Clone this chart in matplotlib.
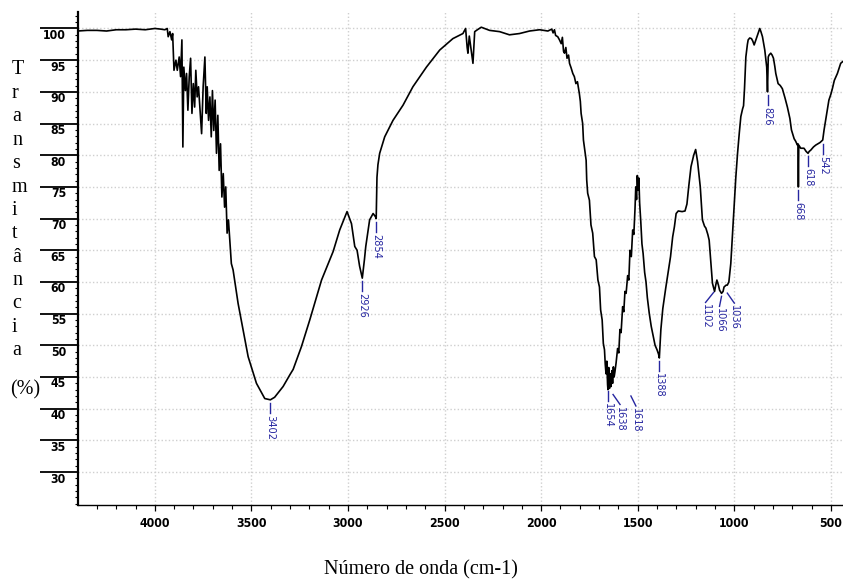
import numpy as np
import matplotlib
matplotlib.use("Agg")
import matplotlib.pyplot as plt
import matplotlib.font_manager as fm
from matplotlib.ticker import MultipleLocator

# ---------------- data ----------------
wavenumber = [
    4400, 4350, 4300, 4250, 4200, 4150, 4100, 4050, 4000, 3970, 3948,
    3936, 3931, 3922, 3913, 3908, 3901, 3891, 3884, 3874, 3867, 3860, 3855,
    3850, 3842, 3836, 3829, 3822, 3815, 3808, 3801, 3794, 3788, 3781, 3774,
    3767, 3758, 3750, 3741, 3734, 3729, 3722, 3715, 3708, 3702, 3695, 3688,
    3681, 3674, 3667, 3660, 3653, 3646, 3639, 3633, 3626, 3619, 3612, 3604,
    3595, 3569, 3543, 3517, 3474, 3431, 3402, 3380, 3336, 3300, 3284, 3241,
    3198, 3137, 3077, 3043, 3005, 2982, 2965, 2953, 2940, 2926, 2915, 2908,
    2888, 2870, 2858, 2854, 2850, 2845, 2836, 2810, 2767, 2715, 2664, 2594,
    2525, 2457, 2405, 2391, 2383, 2379, 2372, 2365, 2358, 2353, 2346, 2344,
    2330, 2310, 2267, 2215, 2164, 2112, 2060, 2008, 1965, 1945, 1938, 1931,
    1925, 1914, 1905, 1896, 1890, 1884, 1879, 1872, 1866, 1858, 1853, 1845,
    1836, 1828, 1820, 1812, 1802, 1797, 1793, 1785, 1781, 1776, 1767, 1764,
    1759, 1750, 1742, 1733, 1724, 1715, 1706, 1698, 1692, 1684, 1678, 1672,
    1668, 1664, 1660, 1656, 1654, 1650, 1646, 1642, 1638, 1634, 1630, 1626,
    1622, 1618, 1612, 1604, 1598, 1592, 1586, 1578, 1572, 1566, 1560, 1552,
    1546, 1540, 1533, 1526, 1520, 1514, 1510, 1506, 1502, 1498, 1494, 1490,
    1484, 1478, 1472, 1464, 1457, 1450, 1440, 1430, 1420, 1410, 1400, 1392,
    1388, 1380, 1370, 1355, 1345, 1330, 1319, 1310, 1301, 1290, 1270, 1255,
    1245, 1236, 1224, 1210, 1200, 1190, 1176, 1165, 1154, 1147, 1137, 1130,
    1120, 1113, 1102, 1096, 1090, 1082, 1076, 1066, 1058, 1053, 1042, 1036,
    1028, 1018, 1010, 1001, 992, 983, 974, 966, 957, 952, 947, 940, 932,
    928, 920, 911, 904, 897, 888, 880, 868, 862, 854, 842, 832, 828, 824,
    820, 811, 804, 797, 790, 785, 773, 762, 751, 737, 725, 712, 704, 690,
    682, 673, 670, 668, 666, 656, 639, 628, 618, 612, 604, 590, 578, 556,
    545, 542, 535, 527, 518, 510, 500, 492, 482, 466, 449, 441, 430,
]
transmittance = [
    99.6, 99.7, 99.7, 99.6, 99.8, 99.8, 99.9, 99.8, 100.0, 99.9, 99.8,
    100.0, 98.7, 99.5, 98.2, 99.2, 93.4, 95.0, 93.4, 95.5, 92.4, 98.2, 81.3,
    93.9, 90.2, 92.9, 87.1, 92.4, 95.3, 86.6, 91.3, 87.6, 93.4, 89.2, 90.8,
    87.6, 83.4, 90.8, 95.5, 86.6, 90.8, 85.5, 89.2, 82.9, 90.2, 83.9, 88.7,
    80.3, 86.3, 77.6, 81.8, 73.4, 77.1, 71.8, 75.0, 67.7, 69.8, 66.6, 62.9,
    61.9, 56.6, 52.4, 48.2, 44.0, 41.6, 41.4, 41.8, 43.5, 45.4, 46.2, 49.8,
    54.0, 60.3, 64.8, 68.2, 71.1, 69.2, 65.6, 65.0, 62.5, 60.6, 63.5, 65.6,
    69.8, 70.8, 70.3, 70.0, 76.5, 78.5, 80.3, 82.9, 85.5, 87.9, 90.8, 93.9,
    96.6, 98.4, 99.2, 100.0, 97.0, 96.1, 98.8, 97.2, 95.5, 94.5, 98.5, 99.5,
    99.8, 100.2, 99.7, 99.5, 99.0, 99.2, 99.6, 99.8, 99.6, 99.9, 99.3, 99.8,
    98.9, 98.7, 98.2, 97.6, 98.6, 96.4, 96.1, 97.0, 95.3, 95.8, 94.5, 93.8,
    92.9, 92.4, 91.3, 91.6, 89.7, 88.5, 86.6, 85.0, 82.4, 81.3, 79.2, 76.1,
    74.0, 72.9, 69.0, 67.7, 64.0, 63.5, 60.3, 59.2, 55.6, 54.0, 50.3, 49.3,
    47.0, 45.5, 47.5, 43.8, 43.0, 46.5, 43.2, 45.5, 43.5, 46.0, 44.0, 46.6,
    45.0, 45.8, 47.2, 49.5, 48.8, 52.5, 52.0, 56.1, 55.3, 58.5, 58.2, 61.0,
    60.3, 65.0, 64.0, 68.2, 67.5, 71.5, 75.0, 73.0, 76.8, 74.5, 76.4, 72.5,
    69.5, 66.0, 64.5, 61.5, 60.0, 57.5, 55.0, 53.0, 51.5, 50.0, 49.3, 48.6,
    48.0, 52.5, 55.8, 59.0, 61.0, 64.0, 67.1, 68.7, 70.8, 71.2, 71.1, 71.2,
    72.3, 75.0, 78.2, 80.0, 80.9, 79.0, 75.0, 69.8, 68.8, 68.5, 67.5, 66.6,
    62.5, 59.8, 58.5, 59.5, 60.3, 59.5, 58.7, 58.2, 58.5, 59.2, 59.5, 59.5,
    60.0, 62.9, 67.0, 71.9, 76.5, 80.3, 83.5, 86.1, 87.3, 87.8, 90.5, 95.5,
    97.5, 98.2, 98.5, 98.4, 98.0, 97.4, 98.2, 98.9, 100.0, 99.5, 98.7, 96.6,
    93.9, 90.0, 95.5, 95.8, 96.1, 95.8, 95.3, 94.0, 92.9, 91.3, 91.0, 90.5,
    89.0, 87.6, 85.8, 84.0, 82.6, 82.2, 81.6, 81.8, 75.0, 81.6, 81.1, 81.1,
    80.6, 80.3, 80.6, 80.8, 81.3, 81.6, 82.0, 82.3, 82.4, 84.0, 85.5, 87.2,
    88.7, 89.6, 90.5, 91.8, 92.9, 94.5, 94.7, 95.0,
]

peak_wn = [3402, 2926, 2854, 1654, 1638, 1618, 1388, 1102, 1066, 1036, 826, 668, 618, 542]
peak_labels = ["3402", "2926", "2854", "1654", "1638", "1618", "1388",
               "1102", "1066", "1036", "826", "668", "618", "542"]

x_ticks = [4000, 3500, 3000, 2500, 2000, 1500, 1000, 500]
y_ticks = [30, 35, 40, 45, 50, 55, 60, 65, 70, 75, 80, 85, 90, 95, 100]

# ---------------- fonts ----------------
avail = {f.name for f in fm.fontManager.ttflist}
def pick(*names):
    for n in names:
        if n in avail:
            return n
    return None

narrow = pick("Liberation Sans Narrow", "Arial Narrow")
narrow_stretch = "normal"
if narrow is None:
    cond = [f for f in fm.fontManager.ttflist
            if (str(f.stretch) in ("condensed", "semi-condensed", "75", "87")
                or "Condensed" in f.name)
            and "Mono" not in f.name and "Serif" not in f.name]
    if cond:
        narrow = cond[0].name
        narrow_stretch = cond[0].stretch
    else:
        narrow = pick("Liberation Sans") or "DejaVu Sans"
serif = pick("Liberation Serif") or "DejaVu Serif"

def nfont(size, weight="normal"):
    return fm.FontProperties(family=narrow, stretch=narrow_stretch, size=size,
                             weight=weight)

# ---------------- figure ----------------
W, H = 843, 580
fig = plt.figure(figsize=(W / 100, H / 100), dpi=100)
ax = fig.add_axes([78 / W, 75 / H, (843 - 78) / W, (505 - 12) / H])
ax.set_xlim(4398, 437)
ax.set_ylim(24.8, 102.6)

ax.plot(wavenumber, transmittance, color="black", lw=1.2, zorder=3)

for s in ("top", "right"):
    ax.spines[s].set_visible(False)
ax.spines["left"].set_linewidth(1.6)
ax.spines["bottom"].set_linewidth(1.0)

ax.set_xticks(x_ticks)
ax.xaxis.set_minor_locator(MultipleLocator(100))
ax.set_yticks(y_ticks)
ax.yaxis.set_minor_locator(MultipleLocator(1))
ax.tick_params(axis="x", which="major", length=4.5, width=0.9, direction="out",
               pad=4)
ax.tick_params(axis="x", which="minor", length=3, width=0.8, direction="out")
ax.tick_params(axis="y", which="major", length=27.5, width=1.3, direction="out",
               labelleft=False)
ax.tick_params(axis="y", which="minor", length=2.5, width=0.8, direction="out")
for lab in ax.get_xticklabels():
    lab.set_fontproperties(nfont(8.8, "bold"))

ax.grid(which="major", color="#cfcfcf", linestyle=(0, (1, 1.6)), lw=1.0, zorder=0)

# y tick labels drawn just below each long tick line
for v in y_ticks:
    _, py = ax.transData.transform((4398, v))
    fig.text(66 / W, (py - 7) / H, str(v), ha="right", va="center",
             fontproperties=nfont(8.8, "bold"))

# axis titles
fig.text(421 / W, 1 - 570 / H, "Número de onda (cm-1)", ha="center", va="center",
         family=serif, fontsize=14.5)
letters = list("Transmitância")
for i, ch in enumerate(letters):
    fig.text(12 / W, 1 - (70 + i * 23.4) / H, ch, ha="left", va="center",
             family=serif, fontsize=14.5)
fig.text(10 / W, 1 - 390 / H, "(%)", ha="left", va="center", family=serif,
         fontsize=14.5)

# peak labels: (text dx, leader start dx, text top below curve) in pixels
label_style = {"1654": (0, 0, 13), "1638": (9, 2, 20), "1618": (21, 16, 31),
               "1102": (-9, -1, 13), "1066": (-2, 0, 15), "1036": (7, 0, 20)}
blue = "#2626a0"
wn_arr = np.array(wavenumber, float)
tr_arr = np.array(transmittance, float)
inv = ax.transData.inverted()
for wn, lab in zip(peak_wn, peak_labels):
    near = np.abs(wn_arr - wn) <= 4
    t0 = tr_arr[near].min() if near.any() else np.interp(wn, wn_arr[::-1], tr_arr[::-1])
    px, py = ax.transData.transform((wn, t0))
    dx, lx, dy = label_style.get(lab, (0, 0, 15))
    ytop = py - dy
    p_start = inv.transform((px + lx, ytop + 12))
    p_end = inv.transform((px + dx, ytop + 2))
    ax.plot([p_start[0], p_end[0]], [p_start[1], p_end[1]], color=blue, lw=1.0,
            clip_on=False, zorder=4)
    ptxt = inv.transform((px + dx, ytop))
    ax.text(ptxt[0], ptxt[1], lab, rotation=-90, ha="center", va="top",
            fontproperties=nfont(7.8), color=blue, zorder=4)

fig.savefig("out.png", dpi=100)
